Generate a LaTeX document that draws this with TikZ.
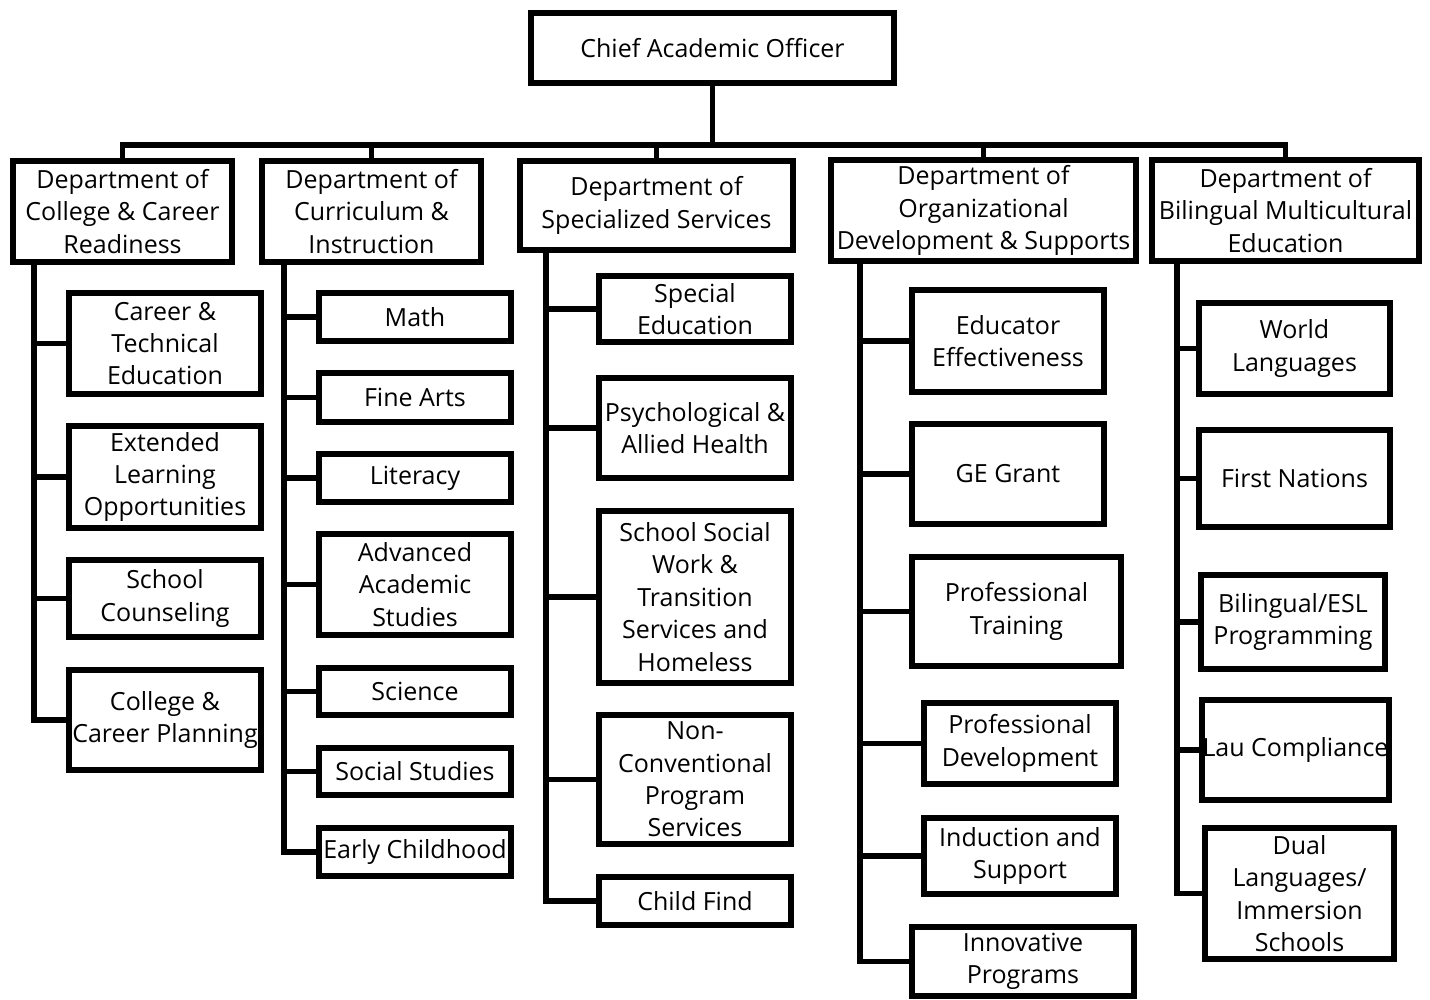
\documentclass[tikz,border=0pt]{standalone}
\usepackage{fontspec}
\setmainfont{Open Sans}
\tikzset{
  box/.style={draw=black, line width=2.8pt, fill=white, inner sep=0pt, align=center,
    font=\fontsize{12.5}{16.2}\selectfont, line join=miter},
  conn/.style={draw=black, line width=2.7pt, line join=miter}
}
\newcommand\bx[6]{\node[box, minimum width={(#4-#2-5.6)*0.5pt}, minimum height={(#5-#3-5.6)*0.5pt}] (#1) at ({(#2+#4)/2},{(#3+#5)/2}) {#6};}
\begin{document}
\begin{tikzpicture}[x=0.5pt,y=-0.5pt]
\useasboundingbox[fill=white] (0,0) rectangle (1430,1000);
% top level
\bx{chief}{528}{10}{897}{86}{Chief Academic Officer}
\bx{d1}{10}{158}{235}{265}{Department of\\College \& Career\\Readiness}
\bx{d2}{259}{158}{484}{265}{Department of\\Curriculum \&\\Instruction}
\bx{d3}{517}{158}{796}{253}{Department of\\Specialized Services}
\bx{d4}{828}{157}{1139}{264}{Department of\\Organizational\\Development \& Supports}
\bx{d5}{1149}{157}{1422}{264}{Department of\\Bilingual Multicultural\\Education}
% column 1
\bx{a1}{66}{290}{264}{397}{Career \&\\Technical\\Education}
\bx{a2}{66}{423}{264}{531}{Extended\\Learning\\Opportunities}
\bx{a3}{66}{557}{264}{640}{School\\Counseling}
\bx{a4}{66}{667}{264}{773}{College \&\\Career Planning}
% column 2
\bx{b1}{316}{290}{514}{344}{Math}
\bx{b2}{316}{370}{514}{425}{Fine Arts}
\bx{b3}{316}{451}{514}{505}{Literacy}
\bx{b4}{316}{531}{514}{638}{Advanced\\Academic\\Studies}
\bx{b5}{316}{665}{514}{718}{Science}
\bx{b6}{316}{745}{514}{798}{Social Studies}
\bx{b7}{316}{825}{514}{879}{Early Childhood}
% column 3
\bx{c1}{596}{273}{794}{345}{Special\\Education}
\bx{c2}{596}{375}{794}{481}{Psychological \&\\Allied Health}
\bx{c3}{596}{508}{794}{686}{School Social\\Work \&\\Transition\\Services and\\Homeless}
\bx{c4}{596}{712}{794}{847}{Non-\\Conventional\\Program\\Services}
\bx{c5}{596}{874}{794}{928}{Child Find}
% column 4
\bx{e1}{909}{287}{1107}{395}{Educator\\Effectiveness}
\bx{e2}{909}{421}{1107}{527}{GE Grant}
\bx{e3}{909}{554}{1124}{669}{Professional\\Training}
\bx{e4}{921}{700}{1119}{787}{Professional\\Development}
\bx{e5}{921}{815}{1119}{897}{Induction and\\Support}
\bx{e6}{909}{924}{1137}{999}{Innovative\\Programs}
% column 5
\bx{f1}{1196}{300}{1393}{397}{World\\Languages}
\bx{f2}{1196}{427}{1393}{530}{First Nations}
\bx{f3}{1198}{572}{1388}{672}{Bilingual/ESL\\Programming}
\bx{f4}{1199}{697}{1392}{803}{Lau Compliance}
\bx{f5}{1202}{825}{1397}{962}{Dual\\Languages/\\Immersion\\Schools}
% trunk coordinates
\coordinate (bus) at (712,145);
\coordinate (t1) at (34,0);
\coordinate (t2) at (284,0);
\coordinate (t3) at (546,0);
\coordinate (t4) at (860,0);
\coordinate (t5) at (1177,0);
% top connectors
\draw[conn] (chief.south) -- (chief.south |- bus);
\draw[conn] (d1.north) |- (bus) -| (d5.north);
\foreach \d in {d2,d3,d4} \draw[conn] (\d.north) -- (\d.north |- bus);
% column trunks
\draw[conn] (d1.south -| t1) |- (a4.west);
\foreach \n in {a1,a2,a3} \draw[conn] (\n.west) -- (\n.west -| t1);
\draw[conn] (d2.south -| t2) |- (b7.west);
\foreach \n in {b1,b2,b3,b4,b5,b6} \draw[conn] (\n.west) -- (\n.west -| t2);
\draw[conn] (d3.south -| t3) |- (c5.west);
\foreach \n in {c1,c2,c3,c4} \draw[conn] (\n.west) -- (\n.west -| t3);
\draw[conn] (d4.south -| t4) |- (e6.west);
\foreach \n in {e1,e2,e3,e4,e5} \draw[conn] (\n.west) -- (\n.west -| t4);
\draw[conn] (d5.south -| t5) |- (f5.west);
\foreach \n in {f1,f2,f3,f4} \draw[conn] (\n.west) -- (\n.west -| t5);
\end{tikzpicture}
\end{document}
